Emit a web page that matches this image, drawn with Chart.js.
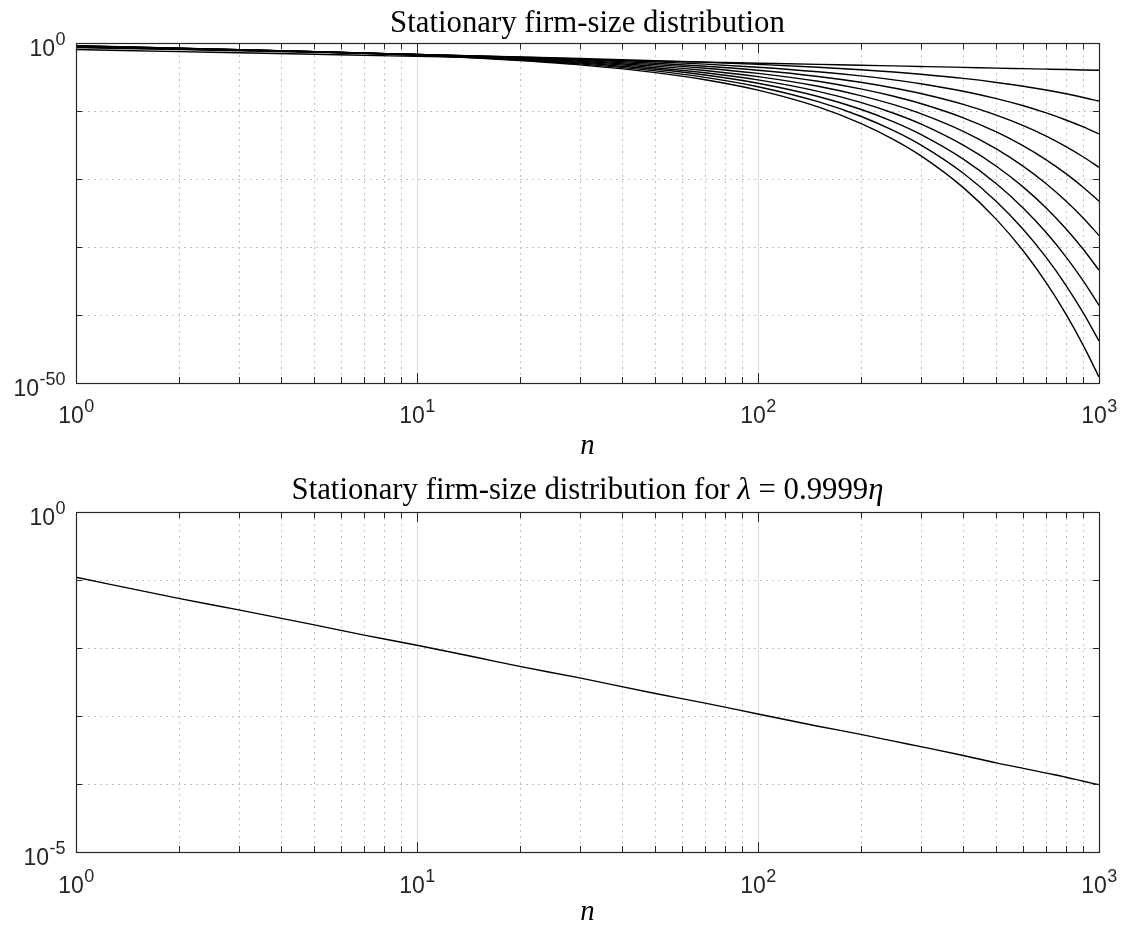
<!DOCTYPE html>
<html>
<head>
<meta charset="utf-8">
<script src="https://cdn.jsdelivr.net/npm/chart.js@4.4.0/dist/chart.umd.min.js"></script>
<style>
  body { margin: 0; background: #fff; }
  canvas { display: block; }
</style>
</head>
<body>
<canvas id="topChart" width="1122" height="463"></canvas>
<canvas id="bottomChart" width="1122" height="463"></canvas>
<script>
// firm sizes n at which the curves were read
const sizes = [1, 2, 3, 5, 7, 10, 15, 20, 30, 50, 70, 100, 150, 200, 250, 300, 400, 500, 600, 700, 800, 900, 1000];

// log10 of the stationary share, one array per lambda/eta ratio
const ratio9999 = [-0.96, -1.27, -1.44, -1.66, -1.81, -1.96, -2.14, -2.27, -2.44, -2.67, -2.81, -2.97, -3.15, -3.27, -3.37, -3.45, -3.58, -3.69, -3.77, -3.84, -3.90, -3.96, -4.01];
const ratio9888 = [-0.66, -0.96, -1.14, -1.38, -1.53, -1.70, -1.90, -2.05, -2.28, -2.60, -2.84, -3.14, -3.56, -3.93, -4.27, -4.60, -5.21, -5.80, -6.37, -6.92, -7.47, -8.01, -8.54];
const ratio9777 = [-0.59, -0.90, -1.09, -1.33, -1.49, -1.68, -1.90, -2.08, -2.35, -2.77, -3.11, -3.56, -4.23, -4.84, -5.43, -6.00, -7.10, -8.18, -9.23, -10.28, -11.32, -12.35, -13.37];
const ratio9666 = [-0.55, -0.86, -1.05, -1.30, -1.48, -1.68, -1.93, -2.13, -2.45, -2.97, -3.41, -4.01, -4.92, -5.78, -6.62, -7.43, -9.03, -10.61, -12.16, -13.70, -15.24, -16.76, -18.28];
const ratio9555 = [-0.51, -0.83, -1.03, -1.29, -1.48, -1.69, -1.97, -2.19, -2.56, -3.18, -3.72, -4.47, -5.63, -6.75, -7.83, -8.90, -11.00, -13.08, -15.13, -17.18, -19.21, -21.24, -23.26];
const ratio9444 = [-0.49, -0.81, -1.01, -1.28, -1.48, -1.71, -2.01, -2.26, -2.68, -3.40, -4.05, -4.95, -6.36, -7.73, -9.07, -10.39, -13.00, -15.58, -18.15, -20.70, -23.24, -25.77, -28.30];
const ratio9333 = [-0.46, -0.79, -1.00, -1.28, -1.49, -1.73, -2.06, -2.33, -2.81, -3.63, -4.38, -5.43, -7.11, -8.73, -10.33, -11.90, -15.03, -18.12, -21.20, -24.26, -27.32, -30.37, -33.41];
const ratio9222 = [-0.44, -0.78, -0.99, -1.28, -1.50, -1.76, -2.11, -2.41, -2.94, -3.86, -4.71, -5.92, -7.86, -9.74, -11.60, -13.44, -17.08, -20.69, -24.29, -27.87, -31.45, -35.02, -38.58];
const ratio9111 = [-0.42, -0.77, -0.98, -1.29, -1.51, -1.79, -2.17, -2.49, -3.07, -4.10, -5.06, -6.43, -8.63, -10.77, -12.89, -14.99, -19.16, -23.30, -27.42, -31.53, -35.63, -39.73, -43.82];
const ratio9000 = [-0.41, -0.75, -0.98, -1.29, -1.53, -1.82, -2.22, -2.58, -3.21, -4.35, -5.41, -6.94, -9.40, -11.81, -14.20, -16.57, -21.27, -25.94, -30.59, -35.24, -39.87, -44.50, -49.12];

// lower panel, lambda = 0.9999 eta
const nearCritical = [-0.96, -1.27, -1.44, -1.66, -1.81, -1.96, -2.14, -2.27, -2.44, -2.67, -2.81, -2.97, -3.15, -3.27, -3.37, -3.45, -3.58, -3.69, -3.77, -3.84, -3.90, -3.96, -4.01];

// tick labels (powers of ten)
const xTicks = [1, 10, 100, 1000];
const xTickExp = ['0', '1', '2', '3'];
const topYTicks = [1e-50, 1];
const topYExp = ['-50', '0'];
const topYMinor = [1e-40, 1e-30, 1e-20, 1e-10];
const bottomYTicks = [1e-5, 1];
const bottomYExp = ['-5', '0'];
const bottomYMinor = [1e-4, 1e-3, 1e-2, 1e-1];

const xMinor = [];
xTicks.slice(0, -1).forEach(d => {
    for (let k = 2; k <= 9; k++) xMinor.push(d * k);
});

const axisColor = '#262626';
const tickFont = '"Liberation Sans", Arial, sans-serif';
const serifFont = '"Liberation Serif", "Times New Roman", serif';

function titleSize(ctx) {
    // size the serif title so its width matches the reference
    ctx.font = '28px ' + serifFont;
    const w = ctx.measureText('Stationary firm-size distribution').width;
    return 28 * 395 / w;
}

function drawPower(ctx, exp, x, baseline, align) {
    ctx.font = '23px ' + tickFont;
    const wb = ctx.measureText('10').width;
    ctx.font = '18px ' + tickFont;
    const we = ctx.measureText(exp).width;
    const start = align === 'right' ? x - wb - we : x - (wb + we) / 2;
    ctx.textAlign = 'left';
    ctx.font = '23px ' + tickFont;
    ctx.fillText('10', start, baseline);
    ctx.font = '18px ' + tickFont;
    ctx.fillText(exp, start + wb + 0.5, baseline - 11);
}

function drawSegments(ctx, parts, cx, baseline, size) {
    let total = 0;
    parts.forEach(p => {
        ctx.font = (p.italic ? 'italic ' : '') + size + 'px ' + serifFont;
        p.w = ctx.measureText(p.text).width;
        total += p.w;
    });
    let x = cx - total / 2;
    ctx.textAlign = 'left';
    parts.forEach(p => {
        ctx.font = (p.italic ? 'italic ' : '') + size + 'px ' + serifFont;
        ctx.fillText(p.text, x, baseline);
        x += p.w;
    });
}

const matlabAxes = {
    id: 'matlabAxes',
    beforeDatasetsDraw(chart, args, opts) {
        const { ctx, chartArea: a, scales: { x, y } } = chart;
        ctx.save();
        ctx.lineWidth = 1;
        // minor grid, dotted
        ctx.strokeStyle = '#c2c2c2';
        ctx.setLineDash([2, 4]);
        ctx.beginPath();
        xMinor.forEach(v => {
            const px = Math.round(x.getPixelForValue(v)) + 0.5;
            ctx.moveTo(px, a.top);
            ctx.lineTo(px, a.bottom);
        });
        opts.yMinor.forEach(v => {
            const py = Math.round(y.getPixelForValue(v)) + 0.5;
            ctx.moveTo(a.left, py);
            ctx.lineTo(a.right, py);
        });
        ctx.stroke();
        // major grid
        ctx.setLineDash([]);
        ctx.strokeStyle = '#dcdcdc';
        ctx.beginPath();
        xTicks.slice(1, -1).forEach(v => {
            const px = Math.round(x.getPixelForValue(v)) + 0.5;
            ctx.moveTo(px, a.top);
            ctx.lineTo(px, a.bottom);
        });
        ctx.stroke();
        ctx.restore();
    },
    afterDatasetsDraw(chart, args, opts) {
        const { ctx, chartArea: a, scales: { x, y } } = chart;
        ctx.save();
        ctx.strokeStyle = axisColor;
        ctx.lineWidth = 1.2;
        ctx.strokeRect(a.left + 0.5, a.top + 0.5, a.right - a.left, a.bottom - a.top);

        // ticks point inward on all four sides
        ctx.lineWidth = 1;
        ctx.beginPath();
        const xTick = (v, len) => {
            const px = Math.round(x.getPixelForValue(v)) + 0.5;
            ctx.moveTo(px, a.bottom);
            ctx.lineTo(px, a.bottom - len);
            ctx.moveTo(px, a.top);
            ctx.lineTo(px, a.top + len);
        };
        xTicks.forEach(v => xTick(v, 10));
        xMinor.forEach(v => xTick(v, 6));
        opts.yMinor.forEach(v => {
            const py = Math.round(y.getPixelForValue(v)) + 0.5;
            ctx.moveTo(a.left, py);
            ctx.lineTo(a.left + 6, py);
            ctx.moveTo(a.right, py);
            ctx.lineTo(a.right - 6, py);
        });
        ctx.stroke();

        // tick labels
        ctx.fillStyle = axisColor;
        ctx.textBaseline = 'alphabetic';
        xTicks.forEach((v, i) => {
            drawPower(ctx, xTickExp[i], x.getPixelForValue(v), a.bottom + opts.xLabelGap, 'center');
        });
        opts.yTicks.forEach((v, i) => {
            drawPower(ctx, opts.yExp[i], a.left - 11, y.getPixelForValue(v) + 13, 'right');
        });

        // title and x label
        const size = titleSize(ctx);
        ctx.fillStyle = '#000';
        drawSegments(ctx, opts.title, (a.left + a.right) / 2, opts.titleY, size);
        drawSegments(ctx, [{ text: 'n', italic: true }], (a.left + a.right) / 2, a.bottom + opts.nameGap, size - 2);
        ctx.restore();
    }
};

function lineSet(row) {
    return {
        data: row.map((v, i) => ({ x: sizes[i], y: Math.pow(10, v) })),
        borderColor: '#000',
        borderWidth: 1.4,
        pointRadius: 0,
        fill: false,
        cubicInterpolationMode: 'monotone'
    };
}

function makeChart(id, rows, yMin, panel) {
    const canvas = document.getElementById(id);
    return new Chart(canvas.getContext('2d'), {
        type: 'line',
        data: { datasets: rows.map(lineSet) },
        options: {
            responsive: false,
            animation: false,
            layout: { padding: panel.padding },
            plugins: {
                legend: { display: false },
                tooltip: { enabled: false },
                matlabAxes: panel
            },
            scales: {
                x: { type: 'logarithmic', min: 1, max: 1000, display: false },
                y: { type: 'logarithmic', min: yMin, max: 1, display: false }
            }
        },
        plugins: [matlabAxes]
    });
}

window.onload = function() {
    try {
        makeChart('topChart',
            [ratio9999, ratio9888, ratio9777, ratio9666, ratio9555, ratio9444, ratio9333, ratio9222, ratio9111, ratio9000],
            1e-50, {
                padding: { left: 76, right: 23, top: 43, bottom: 80 },
                title: [{ text: 'Stationary firm-size distribution' }],
                titleY: 32,
                xLabelGap: 40,
                nameGap: 71,
                yTicks: topYTicks,
                yExp: topYExp,
                yMinor: topYMinor
            });

        makeChart('bottomChart', [nearCritical], 1e-5, {
            padding: { left: 76, right: 23, top: 49, bottom: 74 },
            title: [
                { text: 'Stationary firm-size distribution for ' },
                { text: 'λ', italic: true },
                { text: ' = 0.9999' },
                { text: 'η', italic: true }
            ],
            titleY: 36,
            xLabelGap: 41,
            nameGap: 68,
            yTicks: bottomYTicks,
            yExp: bottomYExp,
            yMinor: bottomYMinor
        });
    } catch (error) {
        console.error('Error initializing charts:', error);
    }
};
</script>
</body>
</html>
